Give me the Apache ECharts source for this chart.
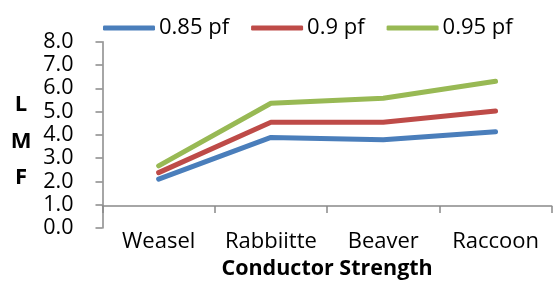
<!DOCTYPE html>
<html>
<head>
<meta charset="utf-8">
<script src="https://cdn.jsdelivr.net/npm/echarts@6/dist/echarts.min.js"></script>
<style>
html,body{margin:0;padding:0;background:#fff;}
#chart{width:554px;height:285px;}
</style>
</head>
<body>
<div id="chart"></div>
<script>
var categories = ['Weasel', 'Rabbiitte', 'Beaver', 'Raccoon'];
var seriesNames = ['0.85 pf', '0.9 pf', '0.95 pf'];
var pf085 = [2.10, 3.89, 3.79, 4.14];
var pf090 = [2.38, 4.54, 4.54, 5.03];
var pf095 = [2.67, 5.36, 5.57, 6.30];
var colors = ['#4a7ebb', '#be4b48', '#98b954'];
var yTitle = 'L\nM\nF';
var xTitle = 'Conductor Strength';

var FONT = '"Open Sans", "Liberation Sans", sans-serif';
var axisGray = '#898989';
var chart = echarts.init(document.getElementById('chart'), null, {renderer: 'canvas'});

function mk(name, data, color) {
  return {
    name: name, type: 'line', data: data, symbol: 'none',
    xAxisIndex: 0, yAxisIndex: 0,
    lineStyle: {color: color, width: 5, cap: 'round', join: 'round'},
    itemStyle: {color: color},
    emphasis: {disabled: true},
    animation: false
  };
}

chart.setOption({
  animation: false,
  textStyle: {fontFamily: FONT},
  legend: {
    left: 98, top: 12,
    itemWidth: 52, itemHeight: 5, itemGap: 22,
    icon: 'roundRect',
    textStyle: {fontFamily: FONT, fontSize: 22, color: '#000', padding: [0, 0, 0, -1]},
    data: seriesNames
  },
  grid: {left: 102.5, right: 2.3, top: 41.7, bottom: 54.7, containLabel: false},
  xAxis: [{
    type: 'category', data: categories, boundaryGap: true,
    axisLine: {show: false}, axisTick: {show: false},
    axisLabel: {fontFamily: FONT, fontSize: 22, color: '#000', margin: 3, interval: 0},
    name: xTitle, nameLocation: 'middle', nameGap: 17,
    nameTextStyle: {fontFamily: FONT, fontSize: 21.5, fontWeight: 'bold', color: '#000'},
    splitLine: {show: false}
  }, {
    type: 'category', data: categories, boundaryGap: true, position: 'bottom',
    offset: -22,
    axisLine: {show: true, onZero: false, lineStyle: {color: axisGray, width: 1.5}},
    axisTick: {show: true, length: 7, interval: 0, lineStyle: {color: axisGray, width: 1.5}},
    axisLabel: {show: false},
    splitLine: {show: false}
  }],
  yAxis: {
    type: 'value', min: 0, max: 8, interval: 1,
    axisLine: {show: true, lineStyle: {color: axisGray, width: 1.5}},
    axisTick: {show: true, length: 7, lineStyle: {color: axisGray, width: 1.5}},
    axisLabel: {fontFamily: FONT, fontSize: 21.5, color: '#000', margin: 29,
      formatter: function (v) { return v.toFixed(1); }},
    splitLine: {show: false}
  },
  graphic: [{
    type: 'text', x: 21, y: 141.5,
    style: {text: yTitle, fontFamily: FONT, fontSize: 22, fontWeight: 'bold',
      fill: '#000', align: 'center', verticalAlign: 'middle', lineHeight: 36.5}
  }],
  series: [mk(seriesNames[0], pf085, colors[0]), mk(seriesNames[1], pf090, colors[1]), mk(seriesNames[2], pf095, colors[2])]
});
</script>
</body>
</html>
